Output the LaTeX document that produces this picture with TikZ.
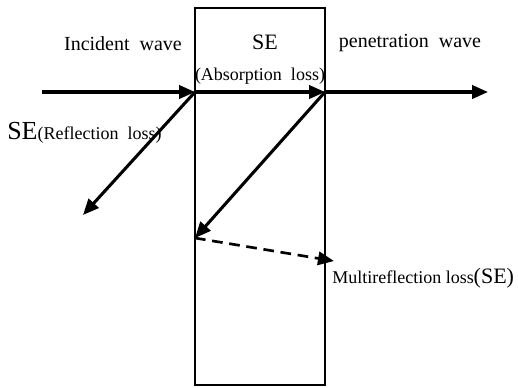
\documentclass[tikz,border=0pt]{standalone}
\usepackage{fontspec}
\setmainfont{Liberation Serif}
\usetikzlibrary{arrows.meta}

\newcommand{\smalltxt}{\fontsize{13.5}{16}\selectfont}
\newcommand{\midtxt}{\fontsize{15}{18}\selectfont}
\newcommand{\bigtxt}{\fontsize{19.5}{22}\selectfont}

\begin{document}
\begin{tikzpicture}[
  x = 0.75pt,
  y = -0.75pt,
  wave/.style = {
    line width = 2.3pt,
    -{Triangle[length=12pt,width=10pt]},
  },
  slab/.style = {
    draw,
    line width = 1.4pt,
  },
  lbl/.style = {
    inner sep = 0pt,
    anchor = base,
  },
]

  \useasboundingbox (0,0) rectangle (518,387);

  % the shield
  \draw[slab] (195,8) rectangle (325,385);

  \coordinate (in)  at (42,92);
  \coordinate (a)   at (195,92);
  \coordinate (b)   at (325,92);
  \coordinate (out) at (488,92);
  \coordinate (r)   at (83,215);
  \coordinate (c)   at (195,238);
  \coordinate (m)   at (334,261);

  \node[lbl] (incident) at (123,50) {\midtxt Incident\ \ wave};
  \node[lbl] (se) at (265,49) {\fontsize{16.5}{19}\selectfont SE};
  \node[lbl] (absorb) at (260,80) {\smalltxt (Absorption\ \ loss)};
  \node[lbl] (penetration) at (410,47) {\midtxt penetration\ \ wave};
  \node[lbl,anchor=base west] (reflect) at (7,139) {\bigtxt SE\smalltxt(Reflection\ \ loss)};
  \node[lbl,anchor=base west] (multi) at (332,283)
    {\smalltxt Multireflection\ loss\fontsize{16.5}{19}\selectfont(SE)};

  \draw[wave] (in) -- (a);
  \draw[wave] (a) -- (b);
  \draw[wave] (b) -- (out);
  \draw[wave] (a) -- (r);
  \draw[wave] (b) -- (c);
  \draw[wave,dash pattern=on 8pt off 5pt,line width=2pt] (c) -- (m);

\end{tikzpicture}
\end{document}
